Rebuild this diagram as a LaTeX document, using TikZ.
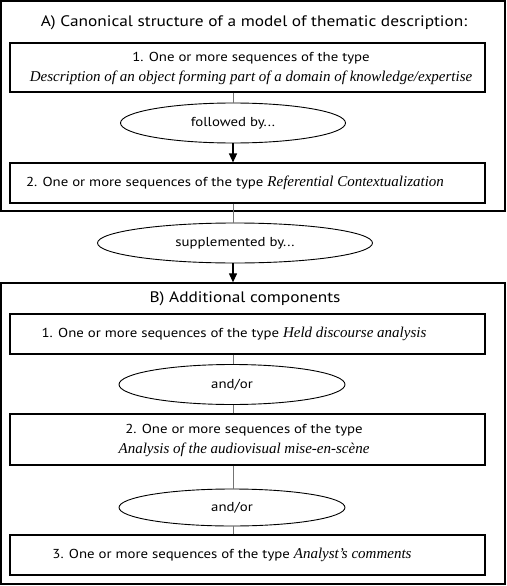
\documentclass[tikz,border=0pt]{standalone}
\usepackage{fontspec}
\setmainfont{PT Sans}[FakeStretch=1.14]
\newfontfamily\tnr{Liberation Serif}
\usetikzlibrary{shapes.geometric,arrows.meta}
\newcommand{\ittxt}[1]{{\tnr\itshape\fontsize{15}{20}\selectfont #1}}
\begin{document}
\begin{tikzpicture}[x=1pt,y=-1pt,
  outer/.style={draw,line width=1.3pt,minimum width=504pt,inner sep=0pt},
  box/.style={draw,line width=1.1pt,minimum width=475pt,inner sep=0pt},
  oval/.style={draw,ellipse,line width=0.9pt,inner sep=0pt,font=\fontsize{13}{15}\selectfont},
  lbl/.style={inner sep=0pt,font=\fontsize{13}{20}\selectfont,align=center},
  ttl/.style={inner sep=0pt,font=\fontsize{15.2}{18}\selectfont},
  conn/.style={draw=black!55,line width=0.9pt},
  arr/.style={draw,line width=1.2pt,-{Triangle[length=9pt,width=8pt]}}]
\useasboundingbox (0,0) rectangle (506,586);
% section A
\node[outer,minimum height=210pt] (A) at (253,106) {};
\node[ttl] (tA) at (254,23) {A) Canonical structure of a model of thematic description:};
\node[box,minimum height=49pt] (a1) at (247.5,67.5) {};
\node[lbl] (ta1) at (251,68) {1. One or more sequences of the type\\ \ittxt{Description of an object forming part of a domain of knowledge/expertise}};
\node[oval,minimum width=225pt,minimum height=40pt] (e1) at (233,123) {followed by...};
\node[box,minimum height=40pt] (a2) at (247.5,183) {};
\node[lbl] (ta2) at (235,183) {2. One or more sequences of the type \ittxt{Referential Contextualization}};
% link
\node[oval,minimum width=275pt,minimum height=40pt] (e2) at (235,243) {supplemented by...};
% section B
\node[outer,minimum height=301pt] (B) at (253,433.5) {};
\node[ttl] (tB) at (245,299) {B) Additional components};
\node[box,minimum height=40pt] (b1) at (247.5,334) {};
\node[lbl] (tb1) at (234,334) {1. One or more sequences of the type \ittxt{Held discourse analysis}};
\node[oval,minimum width=226pt,minimum height=40pt] (o1) at (232,384.5) {and/or};
\node[box,minimum height=51pt] (b2) at (247.5,439.5) {};
\node[lbl] (tb2) at (244,440) {2. One or more sequences of the type\\ \ittxt{Analysis of the audiovisual mise-en-scène}};
\node[oval,minimum width=226pt,minimum height=37pt] (o2) at (232,507.5) {and/or};
\node[box,minimum height=40pt] (b3) at (247.5,555) {};
\node[lbl] (tb3) at (232,555) {3. One or more sequences of the type \ittxt{Analyst’s comments}};
% connectors
\draw[conn] (233,0 |- a1.south) coordinate (c1) -- (c1 |- e1.north);
\draw[arr] (c1 |- e1.south) -- (c1 |- a2.north);
\draw[conn] (c1 |- a2.south) -- (c1 |- e2.north);
\draw[arr] (c1 |- e2.south) -- (c1 |- B.north);
\draw[conn] (c1 |- b1.south) -- (c1 |- o1.north);
\draw[conn] (c1 |- o1.south) -- (c1 |- b2.north);
\draw[conn] (c1 |- b2.south) -- (c1 |- o2.north);
\draw[conn] (c1 |- o2.south) -- (c1 |- b3.north);
\end{tikzpicture}
\end{document}
